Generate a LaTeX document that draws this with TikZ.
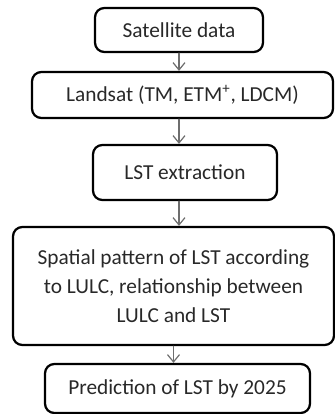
\documentclass[tikz,border=0pt]{standalone}
\usepackage{fontspec}
\setmainfont{Carlito}
\usepackage{tikz}
\usepackage{xcolor}
\usetikzlibrary{arrows.meta,positioning}
\definecolor{flowgray}{RGB}{110,110,110}
\definecolor{textgray}{RGB}{40,40,40}
\tikzset{
  every picture/.append style={line cap=round,line join=round},
  lst box/.style={draw=black,line width=1.7pt,rounded corners=7pt,align=center,
    text=textgray,font=\fontsize{16}{21.75}\selectfont,inner sep=0pt},
  lst flow/.style={flowgray,line width=0.9pt,-{Straight Barb[length=5.5pt,width=9pt]}}
}
\begin{document}
\begin{tikzpicture}[x=0.75pt,y=-0.75pt]
  \useasboundingbox (0,0) rectangle (335,414);
  \node[lst box, minimum width=168*0.75pt, minimum height=44*0.75pt] (sat) at (179,30) {Satellite data};
  \node[lst box, minimum width=301*0.75pt, minimum height=46*0.75pt] (landsat) at (182.5,95) {Landsat (TM, ETM\textsuperscript{+}, LDCM)};
  \node[lst box, minimum width=184*0.75pt, minimum height=55*0.75pt] (extract) at (185,172.5) {LST extraction};
  \node[lst box, minimum width=321*0.75pt, minimum height=118*0.75pt] (pattern) at (173.5,286) {Spatial pattern of LST according\\to LULC, relationship between\\LULC and LST};
  \node[lst box, minimum width=265*0.75pt, minimum height=49*0.75pt] (predict) at (177.5,388.5) {Prediction of LST by 2025};

  \draw[lst flow] (sat.south) -- (sat.south |- landsat.north);
  \draw[lst flow] (landsat.south -| sat.south) -- (sat.south |- extract.north);
  \draw[lst flow] (extract.south -| sat.south) -- (sat.south |- pattern.north);
  \draw[lst flow] (pattern.south) -- (pattern.south |- predict.north);
\end{tikzpicture}
\end{document}
